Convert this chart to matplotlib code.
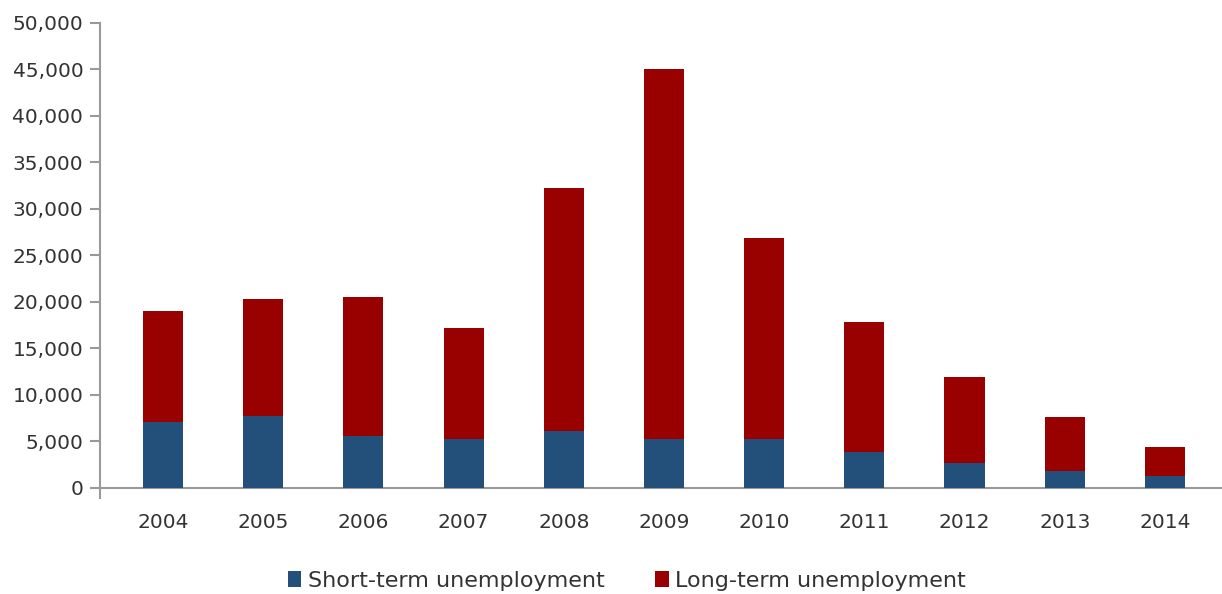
import numpy as np
import matplotlib.pyplot as plt
from matplotlib.ticker import FuncFormatter

years = ["2004", "2005", "2006", "2007", "2008", "2009", "2010", "2011", "2012", "2013", "2014"]
short_term = [7100, 7700, 5600, 5200, 6100, 5200, 5300, 3800, 2700, 1800, 1300]
total = [19000, 20300, 20500, 17200, 32300, 45050, 26900, 17800, 11900, 7600, 4400]
long_term = [t - s for t, s in zip(total, short_term)]

blue = "#23507a"
red = "#990000"
grey = "#999999"
text_col = "#333333"

plt.rcParams['font.family'] = ['DejaVu Sans']

fig = plt.figure(figsize=(12.22, 5.94), dpi=100)
ax = fig.add_axes([0.0818, 0.1616, 0.9182, 0.7997])

x = np.arange(len(years))
ax.bar(x, short_term, width=0.4, color=blue, label="Short-term unemployment")
ax.bar(x, long_term, width=0.4, bottom=short_term, color=red, label="Long-term unemployment")

ax.set_xlim(-0.63, 10.57)
ax.set_ylim(-1100, 50000)
ax.set_yticks(np.arange(0, 50001, 5000))
ax.yaxis.set_major_formatter(FuncFormatter(lambda v, p: f"{int(v):,}"))
ax.set_xticks(x)
ax.set_xticklabels(years)

for s in ["top", "right", "bottom"]:
    ax.spines[s].set_visible(False)
ax.spines["left"].set_color(grey)
ax.spines["left"].set_linewidth(1.5)
ax.axhline(0, color=grey, linewidth=1.5, zorder=0.5)

ax.tick_params(axis="y", length=7, width=1.5, color=grey, pad=5, labelsize=14.5, labelcolor=text_col)
ax.tick_params(axis="x", length=0, pad=11, labelsize=14.5, labelcolor=text_col)

fig.legend(loc="lower center", bbox_to_anchor=(0.513, -0.028), ncol=2, frameon=False,
           fontsize=16, handlelength=0.6, handleheight=0.7, handletextpad=0.3,
           columnspacing=2.3, labelcolor=text_col)

fig.savefig("out.png", dpi=100)
